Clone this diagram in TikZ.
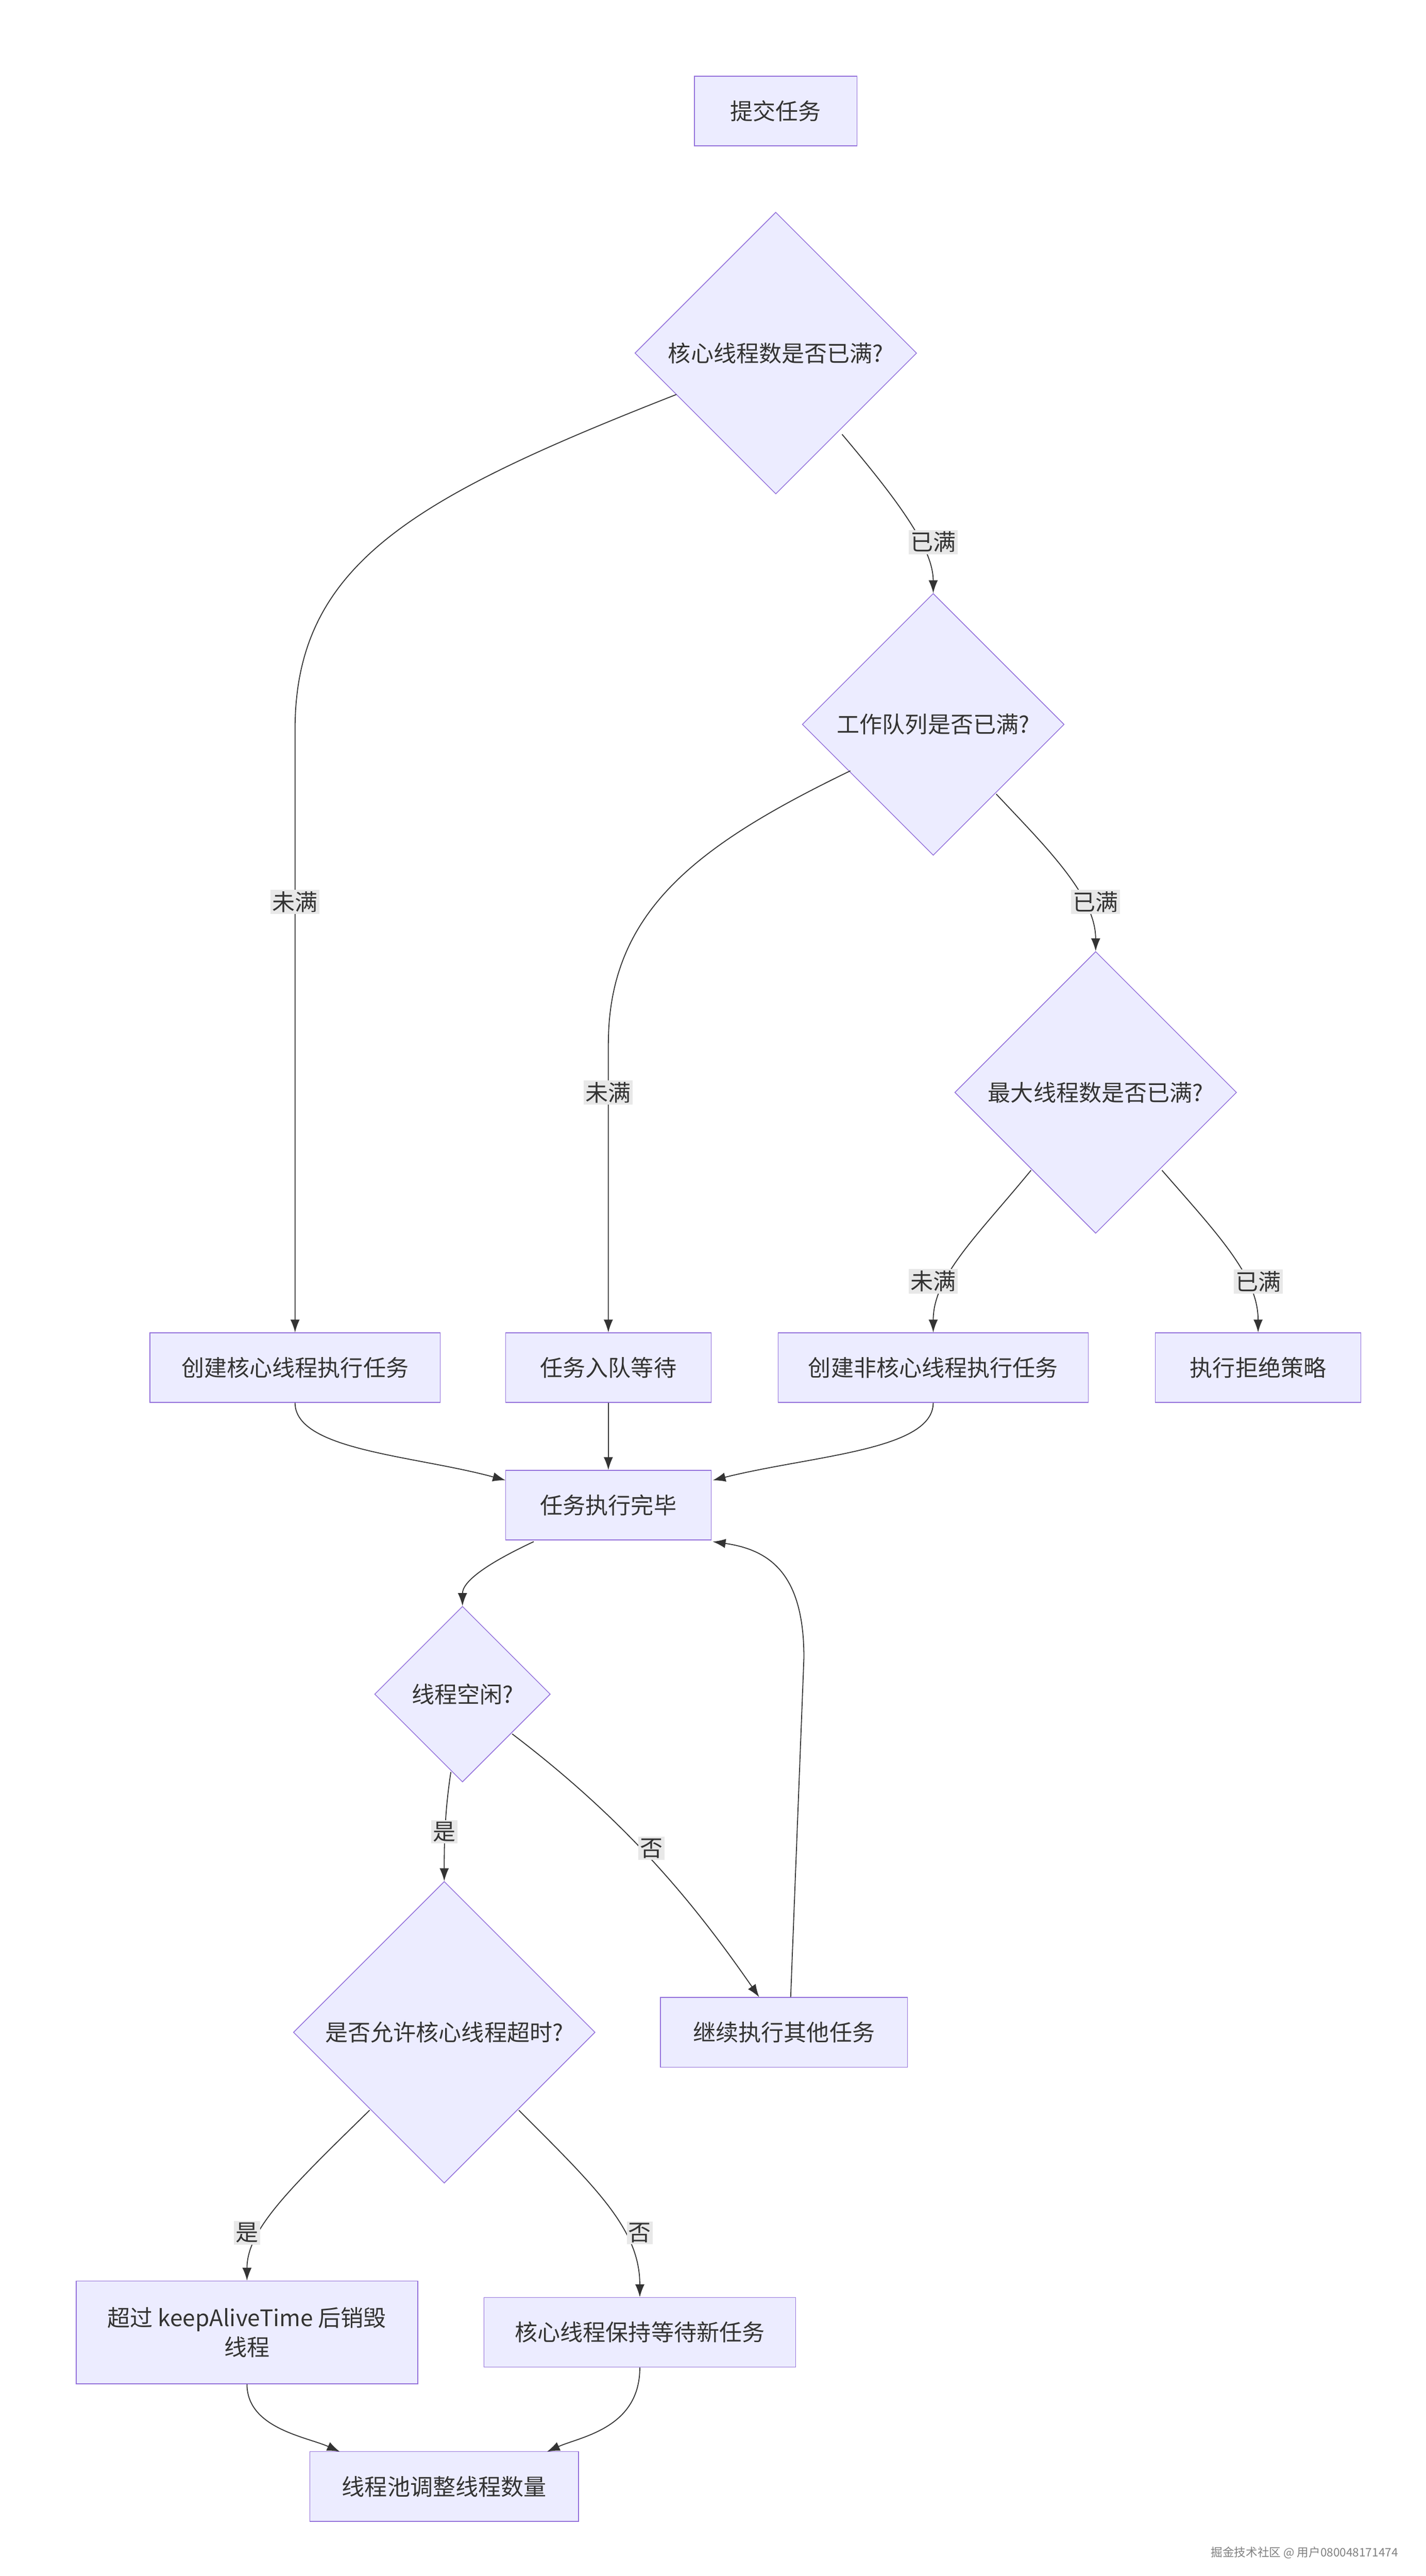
\documentclass[tikz,border=0pt]{standalone}
\usepackage{fontspec}
\setmainfont{Noto Sans CJK SC}
\usetikzlibrary{shapes.geometric,arrows.meta}
\definecolor{nf}{HTML}{ECECFF}
\definecolor{ns}{HTML}{9370DB}
\definecolor{tx}{HTML}{333333}
\definecolor{lb}{HTML}{E8E8E8}
\begin{document}
\begin{tikzpicture}[x=0.1cm,y=-0.1cm,
 every node/.style={font=\fontsize{39pt}{50pt}\selectfont,text=tx},
 box/.style={draw=ns,fill=nf,line width=1.3pt,minimum height=4.2cm,align=center,inner sep=0pt},
 dia/.style={draw=ns,fill=nf,line width=1.3pt,diamond,aspect=1,inner sep=0pt},
 e/.style={draw=tx,line width=1.6pt,-{Latex[length=22pt,width=16pt]}},
 lab/.style={fill=lb,inner sep=3pt}]
\useasboundingbox (0,0) rectangle (860,1554);
\node[box,minimum width=9.8cm] (a) at (468,67) {提交任务};
\node[dia,minimum size=17cm] (d1) at (468,213) {};
\node at (468,213) {核心线程数是否已满?};
\node[dia,minimum size=15.8cm] (d2) at (563,437) {};
\node at (563,437) {工作队列是否已满?};
\node[dia,minimum size=17cm] (d3) at (661,659) {};
\node at (661,659) {最大线程数是否已满?};
\node[box,minimum width=17.5cm] (b1) at (178,825) {创建核心线程执行任务};
\node[box,minimum width=12.4cm] (b2) at (367,825) {任务入队等待};
\node[box,minimum width=18.7cm] (b3) at (563,825) {创建非核心线程执行任务};
\node[box,minimum width=12.4cm] (b4) at (759,825) {执行拒绝策略};
\node[box,minimum width=12.4cm] (c) at (367,908) {任务执行完毕};
\node[dia,minimum size=10.6cm] (d4) at (279,1022) {};
\node at (279,1022) {线程空闲?};
\node[box,minimum width=14.9cm] (g) at (473,1226) {继续执行其他任务};
\node[dia,minimum size=18.2cm] (d5) at (268,1226) {};
\node at (268,1226) {是否允许核心线程超时?};
\node[box,minimum width=20.6cm,minimum height=6.2cm] (h) at (149,1407) {超过 keepAliveTime 后销毁\\线程};
\node[box,minimum width=18.8cm] (k) at (386,1407) {核心线程保持等待新任务};
\node[box,minimum width=16.2cm] (p) at (268,1500) {线程池调整线程数量};
\node[text=gray,font=\fontsize{20pt}{24pt}\selectfont] (w) at (787,1540) {掘金技术社区 @ 用户080048171474};
\coordinate (d1l) at (408,238); \coordinate (d1r) at (508,262);
\draw[e] (d1l) .. controls (250,300) and (178,340) .. (178,440) -- (b1.north);
\node[lab] at (178,544) {未满};
\draw[e] (d1r) .. controls (540,300) and (563,330) .. (d2.north);
\node[lab] at (563,327) {已满};
\coordinate (d2l) at (513,465); \coordinate (d2r) at (601,479);
\draw[e] (d2l) .. controls (420,510) and (367,550) .. (367,630) -- (b2.north);
\node[lab] at (367,659) {未满};
\draw[e] (d2r) .. controls (630,510) and (661,540) .. (d3.north);
\node[lab] at (661,544) {已满};
\coordinate (d3l) at (622,706); \coordinate (d3r) at (701,706);
\draw[e] (d3l) .. controls (590,745) and (563,770) .. (b3.north);
\node[lab] at (563,773) {未满};
\draw[e] (d3r) .. controls (735,745) and (759,770) .. (b4.north);
\node[lab] at (759,773) {已满};
\draw[e] (b1.south) .. controls (178,875) and (250,878) .. (305,893);
\draw[e] (b2.south) -- (c.north);
\draw[e] (b3.south) .. controls (563,875) and (490,878) .. (430,893);
\coordinate (c1) at (322,930);
\draw[e] (c1) .. controls (290,945) and (279,955) .. (d4.north);
\coordinate (d4b) at (272,1069); \coordinate (d4r) at (309,1046);
\draw[e] (d4b) .. controls (268,1095) and (268,1115) .. (d5.north);
\node[lab] at (268,1105) {是};
\draw[e] (d4r) .. controls (380,1100) and (420,1150) .. (g.north-|458,0);
\node[lab] at (393,1115) {否};
\draw[e] (g.north-|477,0) -- (485,1000) .. controls (485,950) and (465,935) .. (430,930);
\coordinate (d5l) at (223,1273); \coordinate (d5r) at (313,1273);
\draw[e] (d5l) .. controls (175,1320) and (149,1345) .. (h.north);
\node[lab] at (149,1347) {是};
\draw[e] (d5r) .. controls (360,1320) and (386,1345) .. (k.north);
\node[lab] at (386,1347) {否};
\draw[e] (h.south) .. controls (149,1465) and (185,1470) .. (205,1479);
\draw[e] (k.south) .. controls (386,1465) and (350,1470) .. (330,1479);
\end{tikzpicture}
\end{document}
